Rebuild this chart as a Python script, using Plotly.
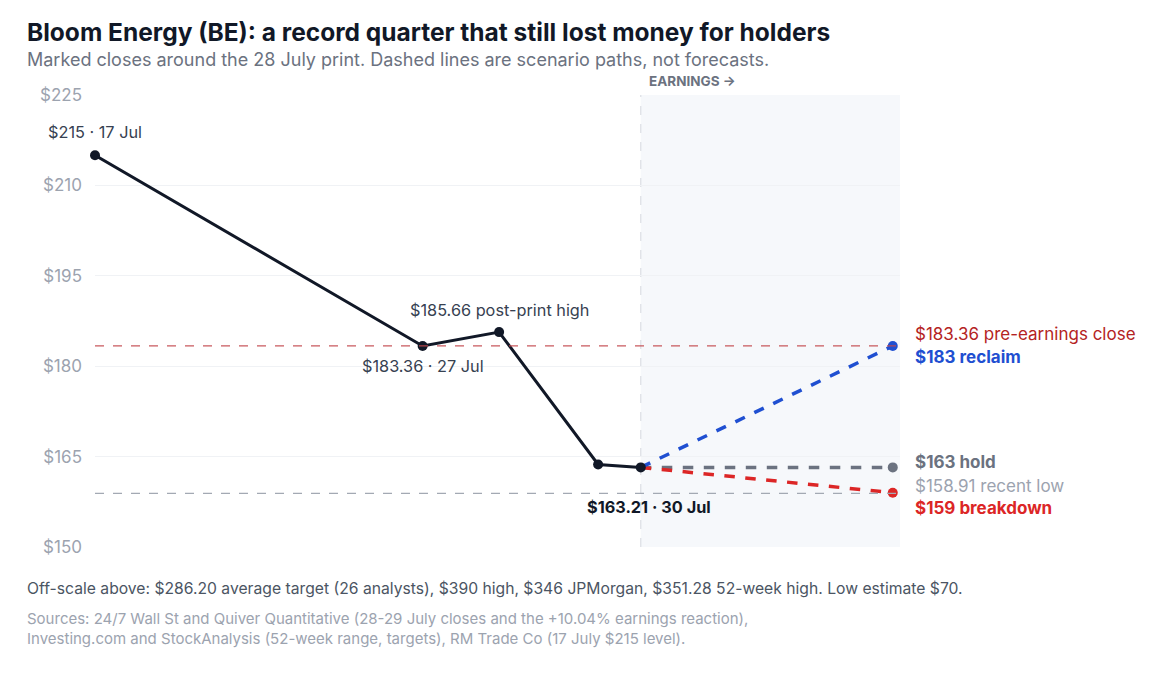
import plotly.graph_objects as go

# marked closes (x is a slot position along the timeline, not calendar days)
hist_x = [0, 40.7, 50.2, 62.5, 67.8]
hist_close = [215, 183.36, 185.66, 163.7, 163.21]

# scenario paths from the 30 Jul close
scen_x = [67.8, 99.1]
scen_reclaim = [163.21, 183.36]
scen_hold = [163.21, 163.21]
scen_break = [163.21, 159]

pre_earnings_close = 183.36
recent_low = 158.91
y_ticks = [150, 165, 180, 195, 210, 225]

FONT = "Inter, Roboto, sans-serif"
INK = "#111827"
BLUE = "#1f4fd1"
GREY = "#6b7280"
RED = "#dc2626"

fig = go.Figure()

# reference levels
fig.add_hline(y=pre_earnings_close, line=dict(color="#c4484d", width=1.2, dash="dash"), opacity=0.9)
fig.add_hline(y=recent_low, line=dict(color="#a3a9b3", width=1.2, dash="dash"))

# earnings shading + divider
fig.add_shape(type="rect", xref="x", yref="paper", x0=hist_x[-1], x1=100, y0=0, y1=1,
              fillcolor="#f6f8fb", line_width=0, layer="below")
fig.add_shape(type="line", xref="x", yref="paper", x0=hist_x[-1], x1=hist_x[-1], y0=0, y1=1,
              line=dict(color="#d5d9df", width=1, dash="dash"), layer="below")

for ys, col in [(scen_hold, GREY), (scen_break, RED), (scen_reclaim, BLUE)]:
    fig.add_trace(go.Scatter(x=scen_x, y=ys, mode="lines", line=dict(color=col, width=3.5, dash="dash"),
                             hoverinfo="skip", showlegend=False))
    fig.add_trace(go.Scatter(x=scen_x[-1:], y=ys[-1:], mode="markers", marker=dict(color=col, size=10),
                             showlegend=False))

fig.add_trace(go.Scatter(x=hist_x, y=hist_close, mode="lines+markers",
                         line=dict(color=INK, width=3), marker=dict(color=INK, size=10),
                         showlegend=False))

ann = []
# point labels
pt_labels = [
    (0, "$215 · 17 Jul", 23, 0, False),
    (1, "$183.36 · 27 Jul", -20, 0, False),
    (2, "$185.66 post-print high", 22, 0, False),
    (4, "$163.21 · 30 Jul", -40, 8, True),
]
for i, txt, ys, xs, bold in pt_labels:
    ann.append(dict(x=hist_x[i], y=hist_close[i], xref="x", yref="y", text=f"<b>{txt}</b>" if bold else txt,
                    showarrow=False, yshift=ys, xshift=xs,
                    font=dict(size=16.3, color=INK if bold else "#374151", family=FONT)))

# right-hand labels
right = [
    (185.34, "$183.36 pre-earnings close", "#b42323", False),
    (181.5, "$183 reclaim", BLUE, True),
    (164.1, "$163 hold", GREY, True),
    (160.1, "$158.91 recent low", "#9ca3af", False),
    (156.5, "$159 breakdown", RED, True),
]
for y, txt, col, bold in right:
    ann.append(dict(x=1.016, y=y, xref="paper", yref="y", xanchor="left", showarrow=False,
                    text=f"<b>{txt}</b>" if bold else txt, font=dict(size=17, color=col, family=FONT)))

ann += [
    dict(x=-0.087, y=1.139, xref="paper", yref="paper", xanchor="left", yanchor="middle", showarrow=False,
         text="<b>Bloom Energy (BE): a record quarter that still lost money for holders</b>",
         font=dict(size=24.5, color=INK, family=FONT)),
    dict(x=-0.087, y=1.078, xref="paper", yref="paper", xanchor="left", yanchor="middle", showarrow=False,
         text="Marked closes around the 28 July print. Dashed lines are scenario paths, not forecasts.",
         font=dict(size=18, color=GREY, family=FONT)),
    dict(x=hist_x[-1], y=1.032, xref="x", yref="paper", xanchor="left", yanchor="middle", xshift=6,
         showarrow=False, text="<b>EARNINGS →</b>", font=dict(size=13.5, color=GREY, family=FONT)),
    dict(x=-0.087, y=-0.091, xref="paper", yref="paper", xanchor="left", yanchor="middle", showarrow=False,
         text="Off-scale above: $286.20 average target (26 analysts), $390 high, $346 JPMorgan, "
              "$351.28 52-week high. Low estimate $70.",
         font=dict(size=15.7, color="#4b5563", family=FONT)),
    dict(x=-0.087, y=-0.18, xref="paper", yref="paper", xanchor="left", yanchor="middle", align="left",
         showarrow=False,
         text="Sources: 24/7 Wall St and Quiver Quantitative (28-29 July closes and the +10.04% earnings reaction),"
              "<br>Investing.com and StockAnalysis (52-week range, targets), RM Trade Co (17 July $215 level).",
         font=dict(size=15, color="#9ca3af", family=FONT)),
]

fig.update_layout(
    width=1170, height=677,
    margin=dict(l=87, r=278, t=87, b=138),
    paper_bgcolor="white", plot_bgcolor="white",
    font=dict(family=FONT),
    xaxis=dict(range=[0, 100], visible=False, fixedrange=True),
    yaxis=dict(range=[150, 225], tickvals=y_ticks, ticktext=[f"${v}" for v in y_ticks],
               showgrid=True, gridcolor="#f0f2f5", gridwidth=1, zeroline=False, showline=False,
               tickfont=dict(size=17, color="#9ca3af"), ticks="", ticklabelstandoff=12),
    annotations=ann,
    showlegend=False,
)
fig.update_traces(cliponaxis=False)

fig.write_html("out.html")
